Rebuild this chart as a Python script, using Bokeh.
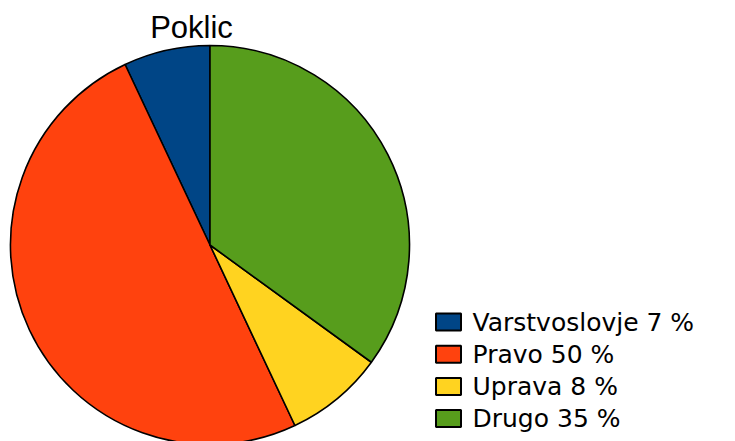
import numpy as np
from bokeh.plotting import figure
from bokeh.models import ColumnDataSource, Range1d
from bokeh.core.properties import value
from bokeh.embed import file_html
from bokeh.resources import INLINE

title_text = "Poklic"
categories = ["Varstvoslovje", "Pravo", "Uprava", "Drugo"]
shares = [7, 50, 8, 35]
colors = ["#004586", "#ff420e", "#ffd320", "#579d1c"]

W, H = 735, 441
p = figure(width=W, height=H, output_backend="svg", toolbar_location=None,
           x_range=Range1d(0, W), y_range=Range1d(0, H),
           x_axis_location=None, y_axis_location=None,
           min_border=0, tools="")
p.grid.visible = False
p.outline_line_color = None
p.background_fill_color = "white"
p.border_fill_color = "white"

# pie (starts at top, counter-clockwise)
cx, cy, r = 209.5, 196.5, 199.5
vals = np.array(shares, dtype=float)
frac = vals / vals.sum()
ends = np.cumsum(frac) * 2 * np.pi
starts = np.concatenate([[0.0], ends[:-1]])
src = ColumnDataSource(dict(
    start=np.pi / 2 + starts,
    end=np.pi / 2 + ends,
    color=colors,
))
p.wedge(x=cx, y=cy, radius=r, start_angle="start", end_angle="end",
        direction="anticlock", fill_color="color", line_color="black",
        line_width=1.6, source=src)

# title
p.text(x=[191], y=[432], text=[title_text], text_font=value("Liberation Sans"),
       text_font_size="31px", text_align="center", text_baseline="top",
       text_color="black")

# legend
n = len(categories)
row_y = [441 - (321.5 + 32.2 * i) for i in range(n)]
labels = [f"{c} {s} %" for c, s in zip(categories, shares)]
leg = ColumnDataSource(dict(y=row_y, label=labels, color=colors))
p.rect(x=448, y="y", width=25, height=17, fill_color="color",
       line_color="black", line_width=2, source=leg)
p.text(x=472, y="y", text="label", text_font=value("DejaVu Sans"),
       text_font_size="25px", text_align="left", text_baseline="middle",
       text_color="black", source=leg)

open("out.html", "w").write(file_html(p, INLINE))
